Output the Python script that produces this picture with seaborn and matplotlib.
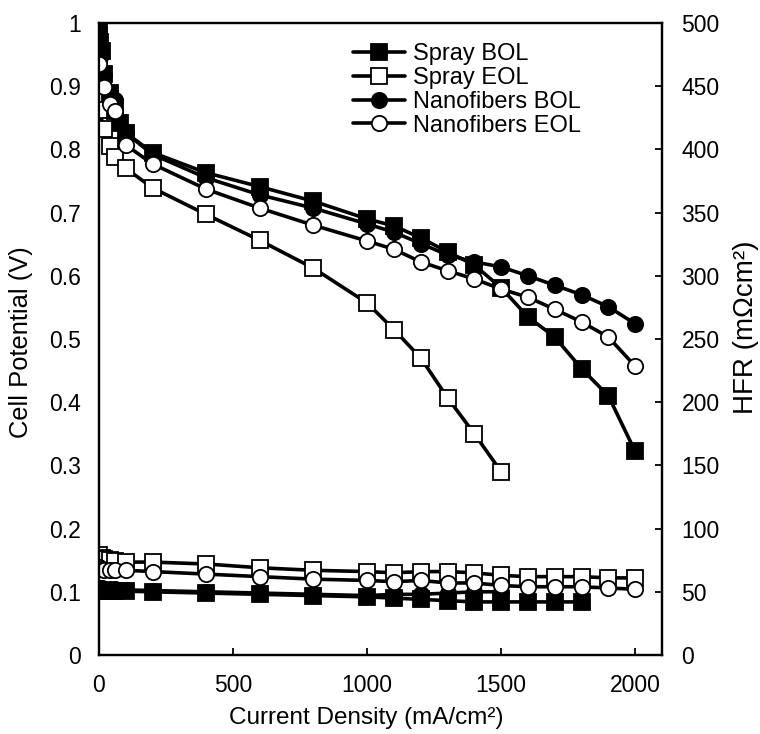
import matplotlib
matplotlib.use("Agg")
import matplotlib.pyplot as plt
import seaborn as sns
import numpy as np

sns.set_theme(style="white")
plt.rcParams['font.family'] = ['Liberation Sans', 'DejaVu Sans']

# ---- Polarization data (Cell Potential, V) ----
spray_bol_x = [0, 5, 10, 20, 40, 60, 80, 100, 200, 400, 600, 800, 1000, 1100, 1200, 1300, 1400, 1500, 1600, 1700, 1800, 1900, 2000]
spray_bol_v = [0.985, 0.97, 0.955, 0.92, 0.89, 0.86, 0.842, 0.826, 0.795, 0.763, 0.741, 0.718, 0.690, 0.679, 0.660, 0.638, 0.617, 0.581, 0.535, 0.503, 0.453, 0.410, 0.322]

spray_eol_x = [0, 20, 40, 60, 100, 200, 400, 600, 800, 1000, 1100, 1200, 1300, 1400, 1500]
spray_eol_v = [0.862, 0.832, 0.806, 0.788, 0.770, 0.739, 0.697, 0.656, 0.612, 0.557, 0.515, 0.470, 0.407, 0.350, 0.290]

nano_bol_x = [0, 5, 20, 40, 60, 100, 200, 400, 600, 800, 1000, 1100, 1200, 1300, 1400, 1500, 1600, 1700, 1800, 1900, 2000]
nano_bol_v = [0.99, 0.946, 0.918, 0.89, 0.878, 0.826, 0.792, 0.755, 0.728, 0.707, 0.682, 0.669, 0.651, 0.633, 0.622, 0.614, 0.600, 0.585, 0.570, 0.551, 0.524]

nano_eol_x = [0, 20, 40, 60, 100, 200, 400, 600, 800, 1000, 1100, 1200, 1300, 1400, 1500, 1600, 1700, 1800, 1900, 2000]
nano_eol_v = [0.935, 0.899, 0.872, 0.860, 0.807, 0.777, 0.737, 0.707, 0.680, 0.655, 0.642, 0.622, 0.608, 0.595, 0.579, 0.566, 0.547, 0.527, 0.503, 0.457]

# ---- HFR data (mOhm cm2) ----
hfr_spray_bol_x = [0, 10, 20, 40, 60, 100, 200, 400, 600, 800, 1000, 1100, 1200, 1300, 1400, 1500, 1600, 1700, 1800]
hfr_spray_bol = [51, 51, 51, 51, 51, 50.5, 50, 49, 48, 47, 46, 45, 44, 43, 42, 42, 42, 42, 42]

hfr_spray_eol_x = [0, 10, 20, 40, 60, 100, 200, 400, 600, 800, 1000, 1100, 1200, 1300, 1400, 1500, 1600, 1700, 1800, 1900, 2000]
hfr_spray_eol = [79, 77, 76, 75, 74, 73.5, 73.5, 72, 69, 67, 66, 65, 66, 66, 65, 63, 62, 62, 62, 61, 61]

hfr_nano_bol_x = [0, 10, 20, 40, 60, 100, 200, 400, 600, 800, 1000, 1100, 1200, 1300, 1400, 1500]
hfr_nano_bol = [53, 53, 52, 52, 52, 51.5, 51, 50, 49, 48, 47, 48, 48, 49, 50, 50]

hfr_nano_eol_x = [0, 10, 20, 40, 60, 100, 200, 400, 600, 800, 1000, 1100, 1200, 1300, 1400, 1500, 1600, 1700, 1800, 1900, 2000]
hfr_nano_eol = [70, 68, 67, 67, 67, 67, 66, 64, 62, 60, 59, 58, 59, 57, 57, 55, 54, 54, 54, 53, 52]

labels = ["Spray BOL", "Spray EOL", "Nanofibers BOL", "Nanofibers EOL"]

fig = plt.figure(figsize=(7.6, 7.34), dpi=100)
ax = fig.add_axes([99/760, 1-655/734, (662-99)/760, (655-23)/734])
ax2 = ax.twinx()

lw = 2.6
ms = 11
mew = 1.3

styles = [
    dict(marker='s', markerfacecolor='black'),
    dict(marker='s', markerfacecolor='white'),
    dict(marker='o', markerfacecolor='black'),
    dict(marker='o', markerfacecolor='white'),
]

pol = [(spray_bol_x, spray_bol_v), (spray_eol_x, spray_eol_v),
       (nano_bol_x, nano_bol_v), (nano_eol_x, nano_eol_v)]
hfr = [(hfr_spray_bol_x, hfr_spray_bol), (hfr_spray_eol_x, hfr_spray_eol),
       (hfr_nano_bol_x, hfr_nano_bol), (hfr_nano_eol_x, hfr_nano_eol)]

for (x, y), st, lab in zip(pol, styles, labels):
    sns.lineplot(x=x, y=y, ax=ax, color='black', linewidth=lw, markersize=ms,
                 markeredgecolor='black', markeredgewidth=mew, sort=False,
                 label=lab, legend=False, **st)

for (x, y), st in zip(hfr, styles):
    sns.lineplot(x=x, y=y, ax=ax2, color='black', linewidth=lw, markersize=ms,
                 markeredgecolor='black', markeredgewidth=mew, sort=False,
                 legend=False, **st)

ax.set_xlim(0, 2100)
ax.set_ylim(0, 1)
ax2.set_ylim(0, 500)
ax.set_xticks([0, 500, 1000, 1500, 2000])
ax.set_yticks(np.arange(0, 1.01, 0.1))
ax.set_yticklabels(["0", "0.1", "0.2", "0.3", "0.4", "0.5", "0.6", "0.7", "0.8", "0.9", "1"])
ax2.set_yticks(np.arange(0, 501, 50))

fs = 16.5
ax.tick_params(axis='x', direction='in', length=5, width=1.3, pad=14, labelsize=fs, colors='black', bottom=True)
ax.tick_params(axis='y', length=0, pad=13, labelsize=fs, colors='black')
ax2.tick_params(axis='y', direction='in', length=5, width=1.3, pad=14, labelsize=fs, colors='black', right=True)

for a in (ax, ax2):
    for s in a.spines.values():
        s.set_color('black')
        s.set_linewidth(1.6)
        s.set_visible(True)

ax.set_xlabel("Current Density (mA/cm²)", fontsize=17.5, color='black')
ax.xaxis.set_label_coords((366-99)/563, (655-707)/632)
ax.set_ylabel("Cell Potential (V)", fontsize=18.4, color='black', va='center')
ax.yaxis.set_label_coords((21-99)/563, (655-342)/632)
ax2.set_ylabel("HFR (mΩcm²)", fontsize=20, color='black', va='center')
ax2.yaxis.set_label_coords((746-99)/563, (655-327)/632)

ax.set_zorder(ax2.get_zorder() + 1)
ax.patch.set_visible(False)

handles, labs = ax.get_legend_handles_labels()
leg = ax.legend(handles, labs, loc='upper left', bbox_to_anchor=((353-99)/563, 1 - (43-23)/632),
                frameon=False, fontsize=17, handlelength=2.2, handletextpad=0.34,
                labelspacing=0.08, borderaxespad=0, borderpad=0)
for t in leg.get_texts():
    t.set_color('black')

fig.savefig("out.png", dpi=100, facecolor='white')
